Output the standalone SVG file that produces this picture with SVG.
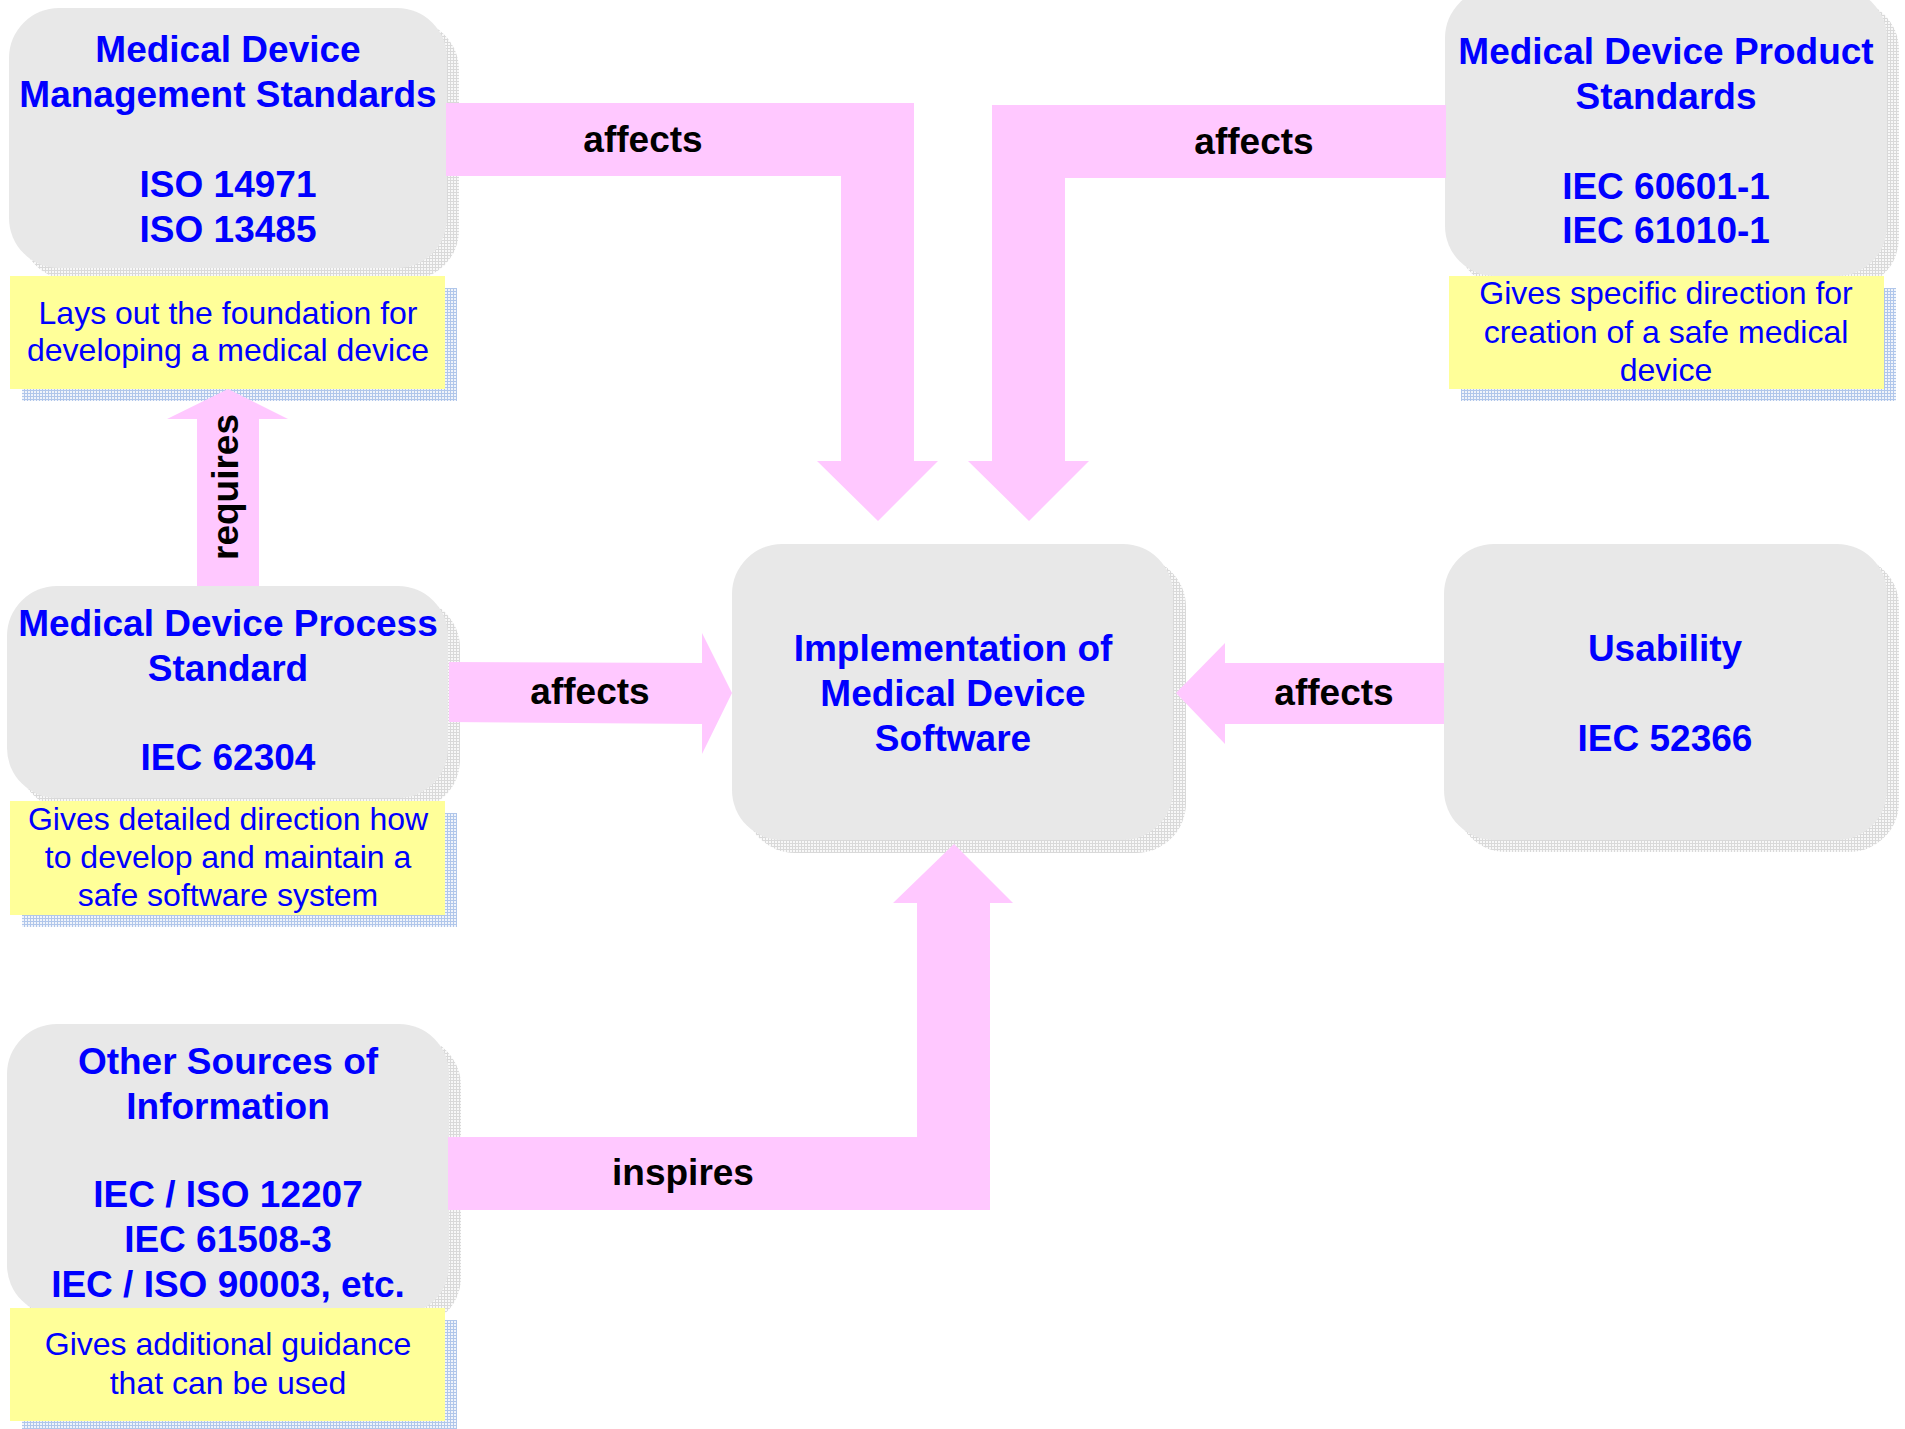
<svg xmlns="http://www.w3.org/2000/svg" width="1905" height="1429" viewBox="0 0 1905 1429">
<defs>
<pattern id="gdot" width="3" height="3" patternUnits="userSpaceOnUse"><rect width="3" height="3" fill="#d9d9d9"/><rect x="1" y="1" width="2" height="2" fill="#f8f8f8"/></pattern>
<pattern id="bdot" width="3" height="3" patternUnits="userSpaceOnUse"><rect width="3" height="3" fill="#b0c6ea"/><rect x="1" y="1" width="2" height="2" fill="#f0f4fb"/></pattern>
</defs>
<style>
.box{fill:#e8e8e8}
.bsh{fill:url(#gdot)}
.note{fill:#ffff99}
.nsh{fill:url(#bdot)}
.t{font-family:"Liberation Sans",Arial,sans-serif;font-weight:bold;font-size:37px;fill:#0000ff;text-anchor:middle}
.n{font-family:"Liberation Sans",Arial,sans-serif;font-size:32px;fill:#0000ff;text-anchor:middle}
.arr{fill:#ffc8ff}
.lbl{font-family:"Liberation Sans",Arial,sans-serif;font-weight:bold;font-size:37px;fill:#000;text-anchor:middle}
</style>
<rect width="1905" height="1429" fill="#fff"/>

<g id="mgmt">
<rect class="bsh" x="21" y="20" width="438" height="260" rx="50"/>
<rect class="box" x="9" y="8" width="438" height="260" rx="50"/>
<text class="t" x="228" y="62">Medical Device</text>
<text class="t" x="228" y="107">Management Standards</text>
<text class="t" x="228" y="197">ISO 14971</text>
<text class="t" x="228" y="242">ISO 13485</text>
<rect class="nsh" x="22" y="288" width="435" height="113"/>
<rect class="note" x="10" y="276" width="435" height="113"/>
<text class="n" x="228" y="324">Lays out the foundation for</text>
<text class="n" x="228" y="361">developing a medical device</text>
</g>

<g id="product">
<rect class="bsh" x="1457" y="0" width="442" height="288" rx="50"/>
<rect class="box" x="1445" y="-12" width="442" height="288" rx="50"/>
<text class="t" x="1666" y="64">Medical Device Product</text>
<text class="t" x="1666" y="109">Standards</text>
<text class="t" x="1666" y="199">IEC 60601-1</text>
<text class="t" x="1666" y="243">IEC 61010-1</text>
<rect class="nsh" x="1461" y="288" width="435" height="113"/>
<rect class="note" x="1449" y="276" width="435" height="113"/>
<text class="n" x="1666" y="304">Gives specific direction for</text>
<text class="n" x="1666" y="343">creation of a safe medical</text>
<text class="n" x="1666" y="381">device</text>
</g>

<g id="process">
<rect class="bsh" x="19" y="598" width="441" height="212" rx="50"/>
<rect class="box" x="7" y="586" width="441" height="212" rx="50"/>
<text class="t" x="228" y="636">Medical Device Process</text>
<text class="t" x="228" y="681">Standard</text>
<text class="t" x="228" y="770">IEC 62304</text>
<rect class="nsh" x="22" y="813" width="435" height="114"/>
<rect class="note" x="10" y="801" width="435" height="114"/>
<text class="n" x="228" y="830">Gives detailed direction how</text>
<text class="n" x="228" y="868">to develop and maintain a</text>
<text class="n" x="228" y="906">safe software system</text>
</g>

<g id="other">
<rect class="bsh" x="19" y="1036" width="442" height="291" rx="50"/>
<rect class="box" x="7" y="1024" width="442" height="291" rx="50"/>
<text class="t" x="228" y="1074">Other Sources of</text>
<text class="t" x="228" y="1119">Information</text>
<text class="t" x="228" y="1207">IEC / ISO 12207</text>
<text class="t" x="228" y="1252">IEC 61508-3</text>
<text class="t" x="228" y="1297">IEC / ISO 90003, etc.</text>
<rect class="nsh" x="22" y="1320" width="435" height="113"/>
<rect class="note" x="10" y="1308" width="435" height="113"/>
<text class="n" x="228" y="1355">Gives additional guidance</text>
<text class="n" x="228" y="1394">that can be used</text>
</g>

<g id="implementation">
<rect class="bsh" x="745" y="557" width="441" height="296" rx="50"/>
<rect class="box" x="732" y="544" width="441" height="296" rx="50"/>
<text class="t" x="953" y="661">Implementation of</text>
<text class="t" x="953" y="706">Medical Device</text>
<text class="t" x="953" y="751">Software</text>
</g>

<g id="usability">
<rect class="bsh" x="1456" y="556" width="443" height="296" rx="50"/>
<rect class="box" x="1444" y="544" width="443" height="296" rx="50"/>
<text class="t" x="1665" y="661">Usability</text>
<text class="t" x="1665" y="751">IEC 52366</text>
</g>

<g id="connectors">
<polygon class="arr" points="446,103 914,103 914,461 938,461 878,521 817,461 841,461 841,176 446,176"/>
<text class="lbl" x="643" y="152">affects</text>
<polygon class="arr" points="1446,105 992,105 992,461 968,461 1029,521 1089,461 1065,461 1065,178 1446,178"/>
<text class="lbl" x="1254" y="154">affects</text>
<polygon class="arr" points="197,586 197,419 167,419 228,389 288,419 259,419 259,586"/>
<text class="lbl" transform="translate(238,487) rotate(-90)">requires</text>
<polygon class="arr" points="449,662 702,663 702,633 732,693 702,754 702,724 449,722"/>
<text class="lbl" x="590" y="704">affects</text>
<polygon class="arr" points="1444,663 1225,663 1225,643 1176,693 1225,744 1225,724 1444,724"/>
<text class="lbl" x="1334" y="705">affects</text>
<polygon class="arr" points="448,1137 917,1137 917,903 893,903 954,844 1013,903 990,903 990,1210 448,1210"/>
<text class="lbl" x="683" y="1185">inspires</text>
</g>
</svg>
